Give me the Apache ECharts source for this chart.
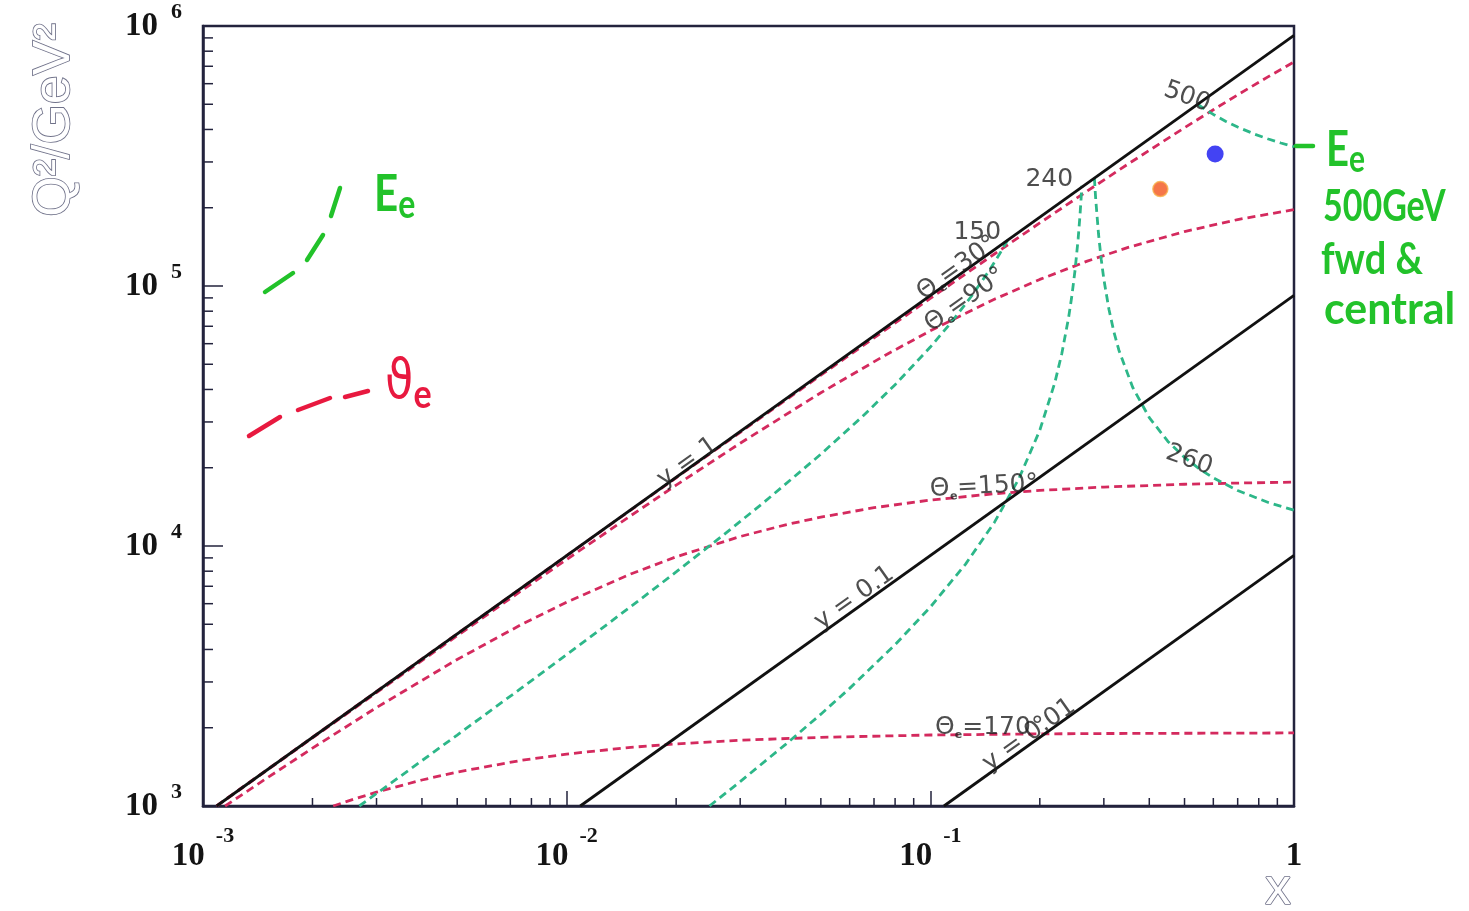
<!DOCTYPE html>
<html>
<head>
<meta charset="utf-8">
<title>Q2 - x plane</title>
<script src="https://cdn.jsdelivr.net/npm/echarts@6/dist/echarts.min.js"></script>
<style>
  html, body { margin: 0; padding: 0; background: #fff; }
  #chart { width: 1469px; height: 911px; }
</style>
</head>
<body>
<div id="chart"></div>
<script>
// ---- values ----
var xTickValues = [0.001, 0.01, 0.1, 1];
var xTickExp = ['-3', '-2', '-1', ''];
var yTickValues = [1000, 10000, 100000, 1000000];
var yTickExp = ['3', '4', '5', '6'];
var xMinorTicks = [0.002, 0.003, 0.004, 0.005, 0.006, 0.007, 0.008, 0.009,
                   0.02, 0.03, 0.04, 0.05, 0.06, 0.07, 0.08, 0.09,
                   0.2, 0.3, 0.4, 0.5, 0.6, 0.7, 0.8, 0.9];
var yMinorTicks = [2000, 3000, 4000, 5000, 6000, 7000, 8000, 9000,
                   20000, 30000, 40000, 50000, 60000, 70000, 80000, 90000,
                   200000, 300000, 400000, 500000, 600000, 700000, 800000, 900000];

// lines of constant y  [x, Q2]
var lineY1   = [[0.00109, 1000], [1, 920000]];
var lineY01  = [[0.0109, 1000], [1, 92000]];
var lineY001 = [[0.109, 1000], [1, 9200]];

// lines of constant electron angle
var theta30 = [[0.00109, 1002], [0.005, 4594], [0.01, 9176], [0.02, 18303], [0.05, 45400], [0.1, 89632],
               [0.15, 132735], [0.2, 174765], [0.27, 231859], [0.35, 294742], [0.5, 406323], [0.6, 476466],
               [0.7, 543477], [0.85, 638585], [1, 727740]];
var theta90 = [[0.00109, 999], [0.002, 1827], [0.003, 2730], [0.005, 4517], [0.0075, 6725], [0.01, 8874],
               [0.015, 13078], [0.02, 17138], [0.03, 24856], [0.05, 38851], [0.075, 54075], [0.1, 67251],
               [0.15, 88918], [0.2, 105991], [0.27, 124599], [0.35, 140734], [0.5, 161972], [0.7, 180089], [1, 196581]];
var theta150 = [[0.00115, 1000], [0.0015, 1282], [0.002, 1669], [0.003, 2392], [0.005, 3662], [0.0075, 4984],
                [0.01, 6082], [0.015, 7802], [0.02, 9086], [0.03, 10876], [0.04, 12064], [0.05, 12911],
                [0.07, 14037], [0.1, 15019], [0.15, 15883], [0.2, 16354], [0.3, 16853], [0.5, 17275], [0.7, 17462], [1, 17606]];
var theta170 = [[0.00228, 1000], [0.0026, 1063], [0.003, 1130], [0.004, 1259], [0.005, 1351], [0.0075, 1498],
                [0.01, 1584], [0.015, 1681], [0.02, 1733], [0.03, 1790], [0.05, 1837], [0.1, 1875],
                [0.2, 1894], [0.3, 1900], [1, 1910]];

// lines of constant scattered electron energy
var e150 = [[0.00269, 1000], [0.0035, 1305], [0.005, 1875], [0.0075, 2838], [0.01, 3821], [0.015, 5843],
            [0.02, 7945], [0.027, 11032], [0.035, 14784], [0.05, 22549], [0.065, 31441], [0.08, 41723],
            [0.1, 58228], [0.115, 73370], [0.13, 91718], [0.145, 114407], [0.155, 132775], [0.163, 149903]];
var e240 = [[0.0247, 1000], [0.03, 1241], [0.04, 1726], [0.05, 2255], [0.06, 2834], [0.08, 4172], [0.1, 5823],
            [0.125, 8518], [0.15, 12321], [0.175, 18090], [0.2, 27878], [0.22, 42521], [0.23, 55104],
            [0.24, 75616], [0.245, 91625], [0.25, 115009], [0.255, 152340], [0.258, 187785], [0.26, 221484], [0.261, 243043]];
var e260 = [[0.2826, 260196], [0.2835, 241051], [0.285, 214915], [0.29, 158812], [0.295, 126823], [0.3, 106154],
            [0.31, 81023], [0.32, 66306], [0.33, 56642], [0.36, 40788], [0.4, 31186], [0.45, 25244], [0.5, 21905],
            [0.55, 19766], [0.6, 18278], [0.7, 16345], [0.85, 14699], [1, 13731]];
var e500 = [[0.5435, 499980], [0.57, 477769], [0.6, 456953], [0.65, 429598], [0.7, 408630], [0.78, 383661],
            [0.85, 367481], [0.92, 354795], [1, 343280]];

// the two measured points
var bluePoint = [[0.607, 322000]];
var orangePoint = [[0.429, 236000]];

// labels written along the curves
var annoText  = ['y = 1', 'y = 0.1', 'y = 0.01', '150', '240', '500', '260'];
var annoX     = [0.0215, 0.0618, 0.187, 0.1346, 0.2124, 0.508, 0.515];
var annoQ2    = [21000, 6310, 1875, 160000, 256000, 533000, 21400];
var annoAngle = [35.5, 35.5, 35.5, 0, 0, -20, -20];

var thetaText  = ['30°', '90°', '150°', '170°'];
var thetaX     = [0.1186, 0.1247, 0.1405, 0.1452];
var thetaQ2    = [117000, 88300, 16900, 2010];
var thetaAngle = [35.5, 35.5, 3, 0];

// ---- drawing ----
var frameColor = '#23233d';
var red = '#d42a5e';
var green = '#2db789';
var handGreen = '#22c22a';
var handRed = '#e8193f';

function findIdx(arr, v) {
  for (var i = 0; i < arr.length; i++) {
    if (Math.abs(Math.log10(v) - Math.log10(arr[i])) < 0.01) return i;
  }
  return -1;
}

function curve(name, data, color, dashed, width) {
  return {
    name: name, type: 'line', data: data, showSymbol: false, silent: true,
    smooth: false, z: dashed ? 3 : 4,
    lineStyle: { color: color, width: width, type: dashed ? [8, 5] : 'solid' }
  };
}

function tickSeries(vals, dim, len) {
  return {
    type: 'custom', silent: true, z: 6, clip: false,
    data: vals.map(function (v) { return dim === 'x' ? [v, 1000] : [0.001, v]; }),
    renderItem: function (params, api) {
      var p = api.coord([api.value(0), api.value(1)]);
      var shape = dim === 'x'
        ? { x1: p[0], y1: p[1], x2: p[0], y2: p[1] - len }
        : { x1: p[0], y1: p[1], x2: p[0] + len, y2: p[1] };
      return { type: 'line', shape: shape, style: { stroke: frameColor, lineWidth: 1.5 } };
    }
  };
}

var annoData = annoText.map(function (t, i) {
  return { value: [annoX[i], annoQ2[i]], name: t, label: { rotate: annoAngle[i] } };
});
var thetaData = thetaText.map(function (t, i) {
  return { value: [thetaX[i], thetaQ2[i]], name: t, label: { rotate: thetaAngle[i] } };
});

var tickRich = {
  b: { fontFamily: 'Liberation Serif', fontWeight: 'bold', fontSize: 33, color: '#141414' },
  one: { fontFamily: 'Liberation Serif', fontWeight: 'bold', fontSize: 33, color: '#141414', lineHeight: 62 },
  s: { fontFamily: 'Liberation Serif', fontWeight: 'bold', fontSize: 22, color: '#141414', padding: [0, 0, 28, 13] },
  sx: { fontFamily: 'Liberation Serif', fontWeight: 'bold', fontSize: 22, color: '#141414', padding: [0, 0, 40, 11] }
};

var hollow = { fill: '#fff', stroke: '#6f7189', lineWidth: 1.7 };

var option = {
  animation: false,
  backgroundColor: '#fff',
  grid: { left: 203, right: 175, top: 26, bottom: 105, show: true, borderColor: frameColor, borderWidth: 2.5 },
  xAxis: {
    type: 'log', logBase: 10, min: 0.001, max: 1,
    axisLine: { show: true, lineStyle: { color: frameColor, width: 2.5 } },
    axisTick: { show: true, inside: true, length: 15, lineStyle: { color: frameColor, width: 1.5 } },
    splitLine: { show: false },
    axisLabel: {
      margin: 19,
      formatter: function (v) {
        var i = findIdx(xTickValues, v);
        if (i < 0) return '';
        return xTickExp[i] === '' ? '{one|1}' : '{b|10}{sx|' + xTickExp[i] + '}';
      },
      rich: tickRich
    }
  },
  yAxis: {
    type: 'log', logBase: 10, min: 1000, max: 1000000,
    axisLine: { show: true, lineStyle: { color: frameColor, width: 2.5 } },
    axisTick: { show: true, inside: true, length: 20, lineStyle: { color: frameColor, width: 1.5 } },
    splitLine: { show: false },
    axisLabel: {
      margin: 21,
      formatter: function (v) {
        var i = findIdx(yTickValues, v);
        if (i < 0) return '';
        return '{b|10}{s|' + yTickExp[i] + '}';
      },
      rich: tickRich
    }
  },
  series: [
    tickSeries(xMinorTicks, 'x', 8),
    tickSeries(yMinorTicks, 'y', 10),
    curve('theta30', theta30, red, true, 2.8),
    curve('theta90', theta90, red, true, 2.8),
    curve('theta150', theta150, red, true, 2.8),
    curve('theta170', theta170, red, true, 2.8),
    curve('E150', e150, green, true, 2.8),
    curve('E240', e240, green, true, 2.8),
    curve('E260', e260, green, true, 2.8),
    curve('E500', e500, green, true, 2.8),
    curve('y=1', lineY1, '#111', false, 2.8),
    curve('y=0.1', lineY01, '#111', false, 2.8),
    curve('y=0.01', lineY001, '#111', false, 2.8),
    {
      type: 'scatter', silent: true, z: 8, data: bluePoint, symbol: 'circle', symbolSize: 17,
      itemStyle: { color: '#1414f0' }
    },
    {
      type: 'scatter', silent: true, z: 8, data: orangePoint, symbol: 'circle', symbolSize: 15,
      itemStyle: { color: '#f2541c', borderColor: '#f7b04a', borderWidth: 1.5 }
    },
    {
      type: 'scatter', silent: true, z: 9, data: annoData, symbolSize: 1,
      itemStyle: { color: 'rgba(0,0,0,0)' },
      label: {
        show: true, position: 'inside', formatter: '{b}',
        fontFamily: 'DejaVu Sans', fontSize: 25, color: '#222'
      }
    },
    {
      type: 'scatter', silent: true, z: 9, data: thetaData, symbolSize: 1,
      itemStyle: { color: 'rgba(0,0,0,0)' },
      label: {
        show: true, position: 'inside',
        formatter: function (p) { return '{t|Θ}{e|e}{t|=' + p.name + '}'; },
        rich: {
          t: { fontFamily: 'DejaVu Sans', fontSize: 25, color: '#222' },
          e: { fontFamily: 'DejaVu Sans', fontSize: 11, fontWeight: 'bold', color: '#222', padding: [16, 0, 0, 0] }
        }
      }
    }
  ],
  graphic: [
    // axis titles
    { type: 'text', x: 55, y: 120, rotation: Math.PI / 2,
      style: Object.assign({ text: 'Q²/GeV²', font: '52px "Liberation Sans"', align: 'center', verticalAlign: 'middle' }, hollow) },
    { type: 'text', x: 1278, y: 890,
      style: Object.assign({ text: 'x', font: '52px "Liberation Sans"', align: 'center', verticalAlign: 'middle' }, hollow) },

    // hand-drawn legend: green dashes + Ee
    { type: 'line', shape: { x1: 265, y1: 292, x2: 293, y2: 273 }, style: { stroke: handGreen, lineWidth: 4.5, lineCap: 'round' } },
    { type: 'line', shape: { x1: 307, y1: 260, x2: 323, y2: 235 }, style: { stroke: handGreen, lineWidth: 4.5, lineCap: 'round' } },
    { type: 'line', shape: { x1: 331, y1: 216, x2: 340, y2: 188 }, style: { stroke: handGreen, lineWidth: 4.5, lineCap: 'round' } },
    { type: 'text', x: 374, y: 194, scaleY: 1.25,
      style: { text: '{E|E}{e|e}', align: 'left', verticalAlign: 'middle',
        rich: { E: { font: 'bold 42px Lato', fill: handGreen }, e: { font: 'bold 32px Lato', fill: handGreen, padding: [18, 0, 0, 0] } } } },

    // hand-drawn legend: red dashes + theta_e
    { type: 'line', shape: { x1: 249, y1: 436, x2: 280, y2: 417 }, style: { stroke: handRed, lineWidth: 4.5, lineCap: 'round' } },
    { type: 'line', shape: { x1: 298, y1: 410, x2: 330, y2: 398 }, style: { stroke: handRed, lineWidth: 4.5, lineCap: 'round' } },
    { type: 'line', shape: { x1: 345, y1: 397, x2: 368, y2: 391 }, style: { stroke: handRed, lineWidth: 4.5, lineCap: 'round' } },
    { type: 'text', x: 385, y: 384, scaleY: 1.2,
      style: { text: '{T|ϑ}{e|e}', align: 'left', verticalAlign: 'middle',
        rich: { T: { font: '46px "DejaVu Sans"', fill: handRed }, e: { font: 'bold 34px Lato', fill: handRed, padding: [18, 0, 0, 0] } } } },

    // right-hand note
    { type: 'line', shape: { x1: 1296, y1: 146, x2: 1313, y2: 146 }, style: { stroke: handGreen, lineWidth: 4.5, lineCap: 'round' } },
    { type: 'text', x: 1326, y: 150, scaleY: 1.25,
      style: { text: '{E|E}{e|e}', align: 'left', verticalAlign: 'middle',
        rich: { E: { font: 'bold 40px Lato', fill: handGreen }, e: { font: 'bold 30px Lato', fill: handGreen, padding: [16, 0, 0, 0] } } } },
    { type: 'text', x: 1323, y: 207, scaleY: 1.35, scaleX: 1.03,
      style: { text: '500GeV', font: 'bold 33px Lato', fill: handGreen, align: 'left', verticalAlign: 'middle' } },
    { type: 'text', x: 1321, y: 260, scaleY: 1.35, scaleX: 1.15,
      style: { text: 'fwd &', font: 'bold 33px Lato', fill: handGreen, align: 'left', verticalAlign: 'middle' } },
    { type: 'text', x: 1324, y: 310, scaleY: 1.35, scaleX: 1.3,
      style: { text: 'central', font: 'bold 33px Lato', fill: handGreen, align: 'left', verticalAlign: 'middle' } }
  ]
};

var myChart = echarts.init(document.getElementById('chart'));
myChart.setOption(option);
</script>
</body>
</html>
